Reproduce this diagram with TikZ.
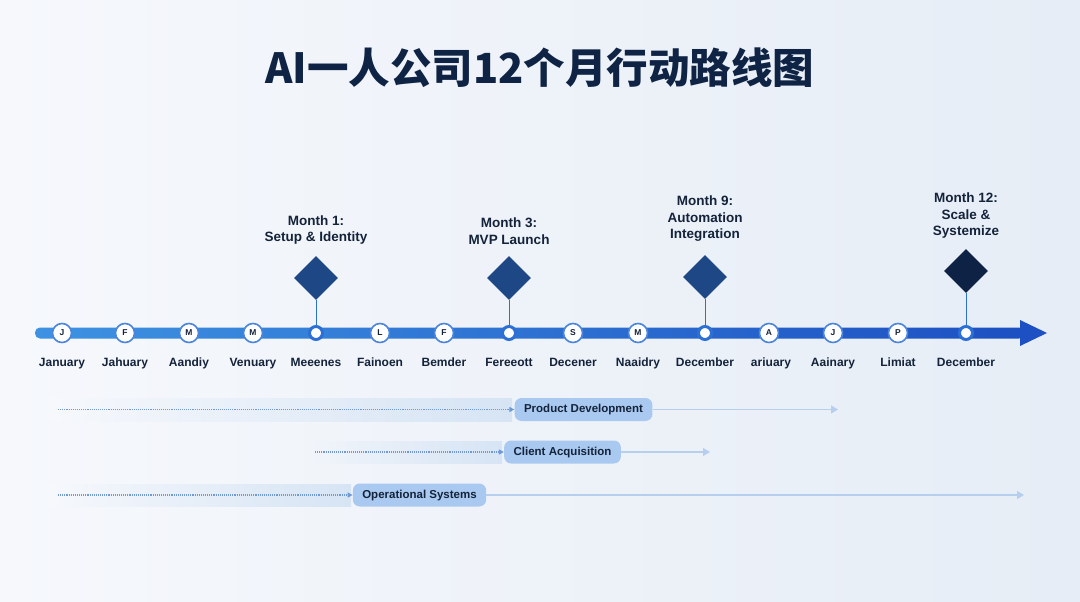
\documentclass[tikz,border=0pt]{standalone}
\usepackage{fontspec}
\setmainfont{Liberation Sans}
\newfontfamily\cjkfont{Noto Sans CJK SC}
\usetikzlibrary{shapes.geometric,arrows.meta,positioning}

\definecolor{bgL}{HTML}{F6F8FC}
\definecolor{bgR}{HTML}{E6EDF6}
\definecolor{barL}{HTML}{3E92E2}
\definecolor{barR}{HTML}{1D50C2}
\definecolor{barmid}{HTML}{2C70D6}
\definecolor{ink}{HTML}{14233A}
\definecolor{navy}{HTML}{0F2445}
\definecolor{navyA}{HTML}{1E4885}
\definecolor{navyB}{HTML}{0E2246}
\definecolor{pill}{HTML}{A9C9F0}
\definecolor{band}{HTML}{D6E4F4}
\definecolor{dotc}{HTML}{6F9AD6}
\definecolor{linec}{HTML}{B6CFEE}

\begin{document}
\begin{tikzpicture}[x=1pt,y=-1pt,
    monthdot/.style={circle, draw=barmid!85, fill=white, line width=1.6pt,
        minimum size=19pt, inner sep=0pt, text=ink,
        font=\bfseries\fontsize{8.5}{9}\selectfont},
    keydot/.style={circle, draw=barmid, fill=white, line width=3pt,
        minimum size=13pt, inner sep=0pt},
    monthlbl/.style={anchor=base, text=ink, font=\bfseries\fontsize{12}{12}\selectfont},
    keylbl/.style={align=center, text=ink, inner sep=0pt,
        font=\bfseries\fontsize{13.5}{16.5}\selectfont},
    keybox/.style={diamond, fill=navyA, minimum size=44pt, inner sep=0pt},
    trackpill/.style={rounded corners=7pt, fill=pill, minimum height=23pt,
        text height=8.5pt, text depth=2.5pt, inner xsep=9.5pt, text=ink,
        font=\bfseries\fontsize{11.5}{12}\selectfont},
    dotline/.style={dotc, densely dotted, line width=1.1pt,
        -{Triangle[length=5pt,width=5pt]}},
    solidline/.style={linec, line width=1.3pt,
        -{Triangle[length=7pt,width=8pt]}}
  ]
    % Background
    \shade[left color=bgL, right color=bgR] (0,0) rectangle (1080,602);
    \useasboundingbox (0,0) rectangle (1080,602);

    % Title
    \node[text=navy, font=\cjkfont\bfseries\fontsize{41.5}{42}\selectfont] (title)
        at (540,68) {AI一人公司12个月行动路线图};

    % Timeline bar
    \shade[left color=barL, right color=barR, rounded corners=5pt]
        (35,327.5) rectangle (1024,338.5);
    \fill[barR] (1020,320) -- (1047,333) -- (1020,346) -- cycle;

    % Month markers
    \foreach \x/\m [count=\i] in {62/J, 125/F, 189/M, 253/M, 380/L, 444/F,
                                  573/S, 638/M, 769/A, 833/J, 898/P} {
        \node[monthdot] (m\i) at (\x,333) {\m};
    }

    % Key dots
    \foreach \x [count=\i] in {316, 509, 705, 966} {
        \node[keydot] (k\i) at (\x,333) {};
    }

    % Month labels
    \foreach \x/\lbl [count=\i] in {62/January, 125/Jahuary, 189/Aandiy,
            253/Venuary, 316/Meeenes, 380/Fainoen, 444/Bemder, 509/Fereeott,
            573/Decener, 638/Naaidry, 705/December, 771/ariuary, 833/Aainary,
            898/Limiat, 966/December} {
        \node[monthlbl] (l\i) at (\x,366) {\lbl};
    }

    % Milestones
    \node[keybox] (d1) at (316,278) {};
    \node[keybox] (d2) at (509,278) {};
    \node[keybox] (d3) at (705,277) {};
    \node[keybox, fill=navyB] (d4) at (966,271) {};
    \foreach \i in {1,...,4} {
        \draw[barmid, line width=0.8pt] (d\i) -- (k\i);
    }
    \node[keylbl, above=11pt of d1] (t1) {Month 1:\\Setup \& Identity};
    \node[keylbl, above=11pt of d2] (t2) {Month 3:\\MVP Launch};
    \node[keylbl, above=13pt of d3] (t3) {Month 9:\\Automation\\Integration};
    \node[keylbl, above=10pt of d4] (t4) {Month 12:\\Scale \&\\Systemize};

    % Product development track
    \fill[left color=bgL, right color=band] (50,398) rectangle (512,421);
    \coordinate (pd0) at (58,409.5);
    \node[trackpill] (pd) at (583.5,409.5) {Product Development};
    \coordinate (pd1) at (838,409.5);
    \draw[dotline] (pd0) -- (pd);
    \draw[solidline] (pd) -- (pd1);

    % Client acquisition track
    \fill[left color=bgR!29!bgL, right color=band] (308,441) rectangle (502,463);
    \coordinate (ca0) at (315,452);
    \node[trackpill] (ca) at (562.5,452) {Client Acquisition};
    \coordinate (ca1) at (710,452);
    \draw[dotline] (ca0) -- (ca);
    \draw[solidline] (ca) -- (ca1);

    % Operational systems track
    \fill[left color=bgL, right color=band] (50,484) rectangle (351,506);
    \coordinate (os0) at (58,495);
    \node[trackpill] (os) at (419.5,495) {Operational Systems};
    \coordinate (os1) at (1024,495);
    \draw[dotline] (os0) -- (os);
    \draw[solidline] (os) -- (os1);
\end{tikzpicture}
\end{document}
